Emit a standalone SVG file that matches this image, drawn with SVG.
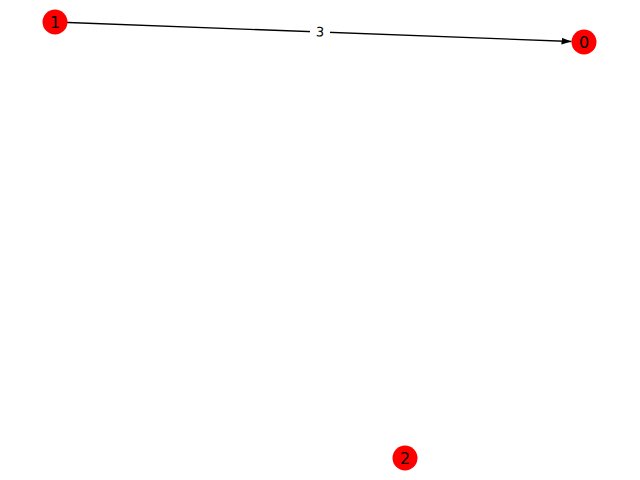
<svg xmlns="http://www.w3.org/2000/svg" width="640" height="480" viewBox="0 0 640 480">
<style>
.node circle{fill:#ff0000;}
.node text{font-family:"DejaVu Sans",sans-serif;font-size:16px;fill:#000;text-anchor:middle;dominant-baseline:central;}
.edge{stroke:#000;stroke-width:1.3;fill:none;}
.elabel{font-family:"DejaVu Sans",sans-serif;font-size:13px;fill:#000;text-anchor:middle;dominant-baseline:central;}
</style>
<defs>
<marker id="arrow" markerWidth="10" markerHeight="8" refX="10" refY="4" orient="auto" markerUnits="userSpaceOnUse">
<path d="M0,0.5 L10,4 L0,7.5 Z" fill="#000"/>
</marker>
</defs>
<rect width="640" height="480" fill="#fff"/>
<g id="edges">
<line class="edge" x1="55" y1="22" x2="571.5" y2="41.5" marker-end="url(#arrow)"/>
<g transform="translate(320,32) rotate(2.17)">
<rect x="-10" y="-8" width="20" height="16" fill="#fff"/>
<text class="elabel" x="0" y="0">3</text>
</g>
</g>
<g id="node-1" class="node"><circle cx="55" cy="22" r="12.5"/><text x="55" y="22">1</text></g>
<g id="node-0" class="node"><circle cx="584" cy="42" r="12.5"/><text x="584" y="42">0</text></g>
<g id="node-2" class="node"><circle cx="405" cy="458" r="12.5"/><text x="405" y="458">2</text></g>
</svg>
